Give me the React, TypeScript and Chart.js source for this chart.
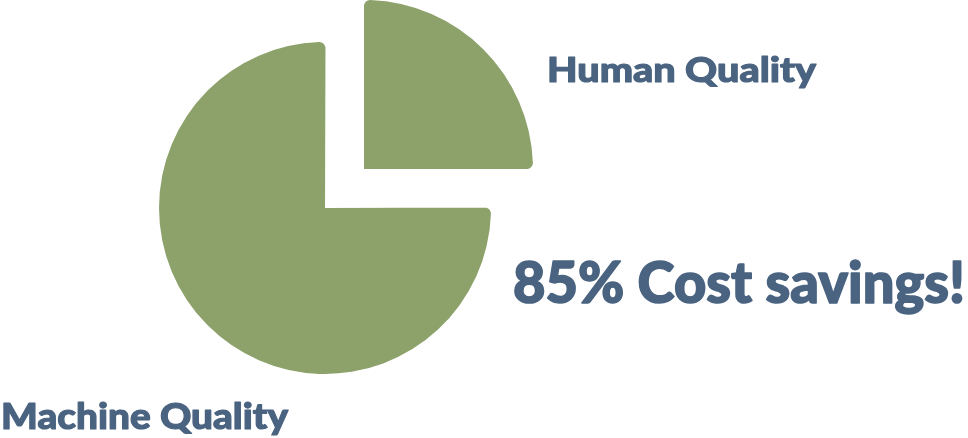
import React, { useEffect, useRef } from "react";
import { Chart, registerables } from "chart.js";

Chart.register(...registerables);

const categories = ["Human Quality", "Machine Quality"];
const shares = [25, 75];
const sliceOffsets = [232.5, -12];
const headline = "85% Cost savings!";

const GREEN = "#8da26b";
const TEXT = "#496380";
const FONT = "Lato, 'Open Sans', sans-serif";

export default function App() {
  const canvasRef = useRef<HTMLCanvasElement | null>(null);

  useEffect(() => {
    document.body.style.margin = "0";
    const canvas = canvasRef.current;
    if (!canvas) return;
    const chart = new Chart(canvas, {
      type: "pie",
      data: {
        labels: categories,
        datasets: [
          {
            data: shares,
            backgroundColor: [GREEN, GREEN],
            borderWidth: 0,
            borderRadius: 6,
            offset: sliceOffsets,
            radius: 169,
          } as any,
        ],
      },
      options: {
        animation: false,
        responsive: false,
        maintainAspectRatio: false,
        rotation: 0,
        events: [],
        layout: { padding: { left: 0, top: 0, right: 322.2, bottom: 17.8 } },
        plugins: {
          legend: { display: false },
          tooltip: { enabled: false },
        },
      },
    });
    return () => chart.destroy();
  }, []);

  const textStyle = { fontFamily: FONT, fontWeight: 900, fill: TEXT, stroke: TEXT, strokeLinejoin: "round" } as any;

  return (
    <div style={{ position: "fixed", left: 0, top: 0, width: 968, height: 438, background: "#fff" }}>
      <canvas ref={canvasRef} width={968} height={438} style={{ position: "absolute", left: 0, top: 0, width: 968, height: 438 }} />
      <svg width={968} height={438} style={{ position: "absolute", left: 0, top: 0 }}>
        <text x={547} y={82} fontSize={35} textLength={269} lengthAdjust="spacingAndGlyphs" strokeWidth={1.1} style={textStyle}>
          {categories[0]}
        </text>
        <text x={1} y={429} fontSize={36} textLength={287} lengthAdjust="spacingAndGlyphs" strokeWidth={1.1} style={textStyle}>
          {categories[1]}
        </text>
        <text x={513} y={303} fontSize={57} textLength={452} lengthAdjust="spacingAndGlyphs" strokeWidth={1.6} style={textStyle}>
          {headline}
        </text>
      </svg>
    </div>
  );
}
